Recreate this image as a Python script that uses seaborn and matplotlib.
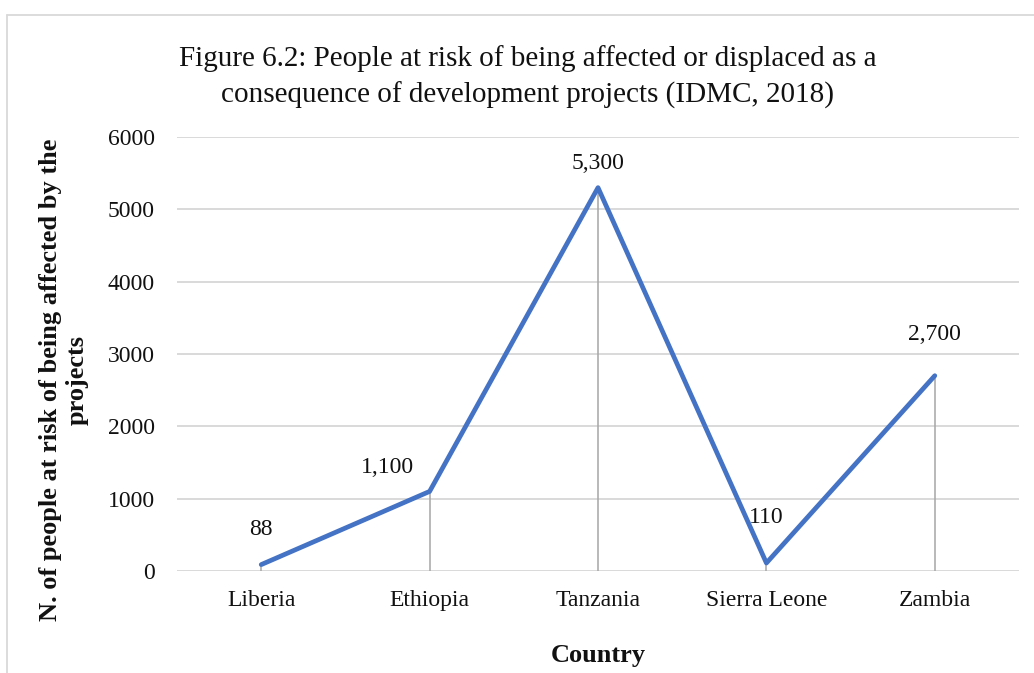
import matplotlib
matplotlib.use("Agg")
import matplotlib.pyplot as plt
from matplotlib.lines import Line2D
import seaborn as sns
import pandas as pd

countries = ["Liberia", "Ethiopia", "Tanzania", "Sierra Leone", "Zambia"]
people_at_risk = [88, 1100, 5300, 110, 2700]
value_labels = ["88", "1,100", "5,300", "110", "2,700"]
y_ticks = [0, 1000, 2000, 3000, 4000, 5000, 6000]

sns.set_theme(style="white")
plt.rcParams["font.family"] = ["Liberation Serif", "DejaVu Serif"]

df = pd.DataFrame({"Country": countries, "People": people_at_risk})
df["pos"] = range(len(countries))

fig = plt.figure(figsize=(10.34, 6.73), dpi=100)
ax = fig.add_axes([0.1712, 0.1516, 0.8143, 0.6448])

# horizontal gridlines
for t in y_ticks:
    ax.axhline(t, color="#D9D9D9", lw=1.4, zorder=0)

# drop lines from each point to the category axis
ax.vlines(df["pos"], 0, df["People"], color="#A6A6A6", lw=1.1, zorder=1)

sns.lineplot(data=df, x="pos", y="People", ax=ax, color="#4472C4",
             linewidth=3.4, solid_capstyle="round", solid_joinstyle="round",
             zorder=3)

ax.set_xlim(-0.5, len(countries) - 0.5)
ax.set_ylim(0, 6000)
ax.set_yticks(y_ticks)
ax.set_yticklabels([str(t) for t in y_ticks], fontsize=17, color="#111111")
ax.set_xticks(df["pos"])
ax.set_xticklabels(countries, fontsize=17, color="#111111")
ax.tick_params(axis="y", length=0, pad=16)
ax.tick_params(axis="x", length=0, pad=14)
for s in ax.spines.values():
    s.set_visible(False)
ax.set_xlabel("")
ax.set_ylabel("")

# value labels
offsets = [(0, 35), (-42, 24), (0, 24), (0, 46), (0, 41)]
for x, y, lab, off in zip(df["pos"], people_at_risk, value_labels, offsets):
    ax.annotate(lab, (x, y), xytext=off, textcoords="offset pixels",
                ha="center", va="center", fontsize=17, color="#111111")

fig.text(0.51, 0.886, "Figure 6.2: People at risk of being affected or displaced as a\n"
         "consequence of development projects (IDMC, 2018)",
         ha="center", va="center", fontsize=21, linespacing=1.45, color="#111111")

fig.text(0.579, 0.026, "Country", ha="center", va="center", fontsize=19,
         fontweight="bold", color="#111111")
fig.text(0.062, 0.435, "N. of people at risk of being affected by the\nprojects",
         ha="center", va="center", rotation=90, fontsize=19, fontweight="bold",
         linespacing=1.2, color="#111111")

# chart frame
fig.add_artist(Line2D([7 / 1034, 1], [1 - 15 / 673] * 2, color="#D9D9D9", lw=1.3,
                      transform=fig.transFigure))
fig.add_artist(Line2D([7 / 1034] * 2, [0, 1 - 15 / 673], color="#D9D9D9", lw=1.3,
                      transform=fig.transFigure))

fig.savefig("out.png", dpi=100)
